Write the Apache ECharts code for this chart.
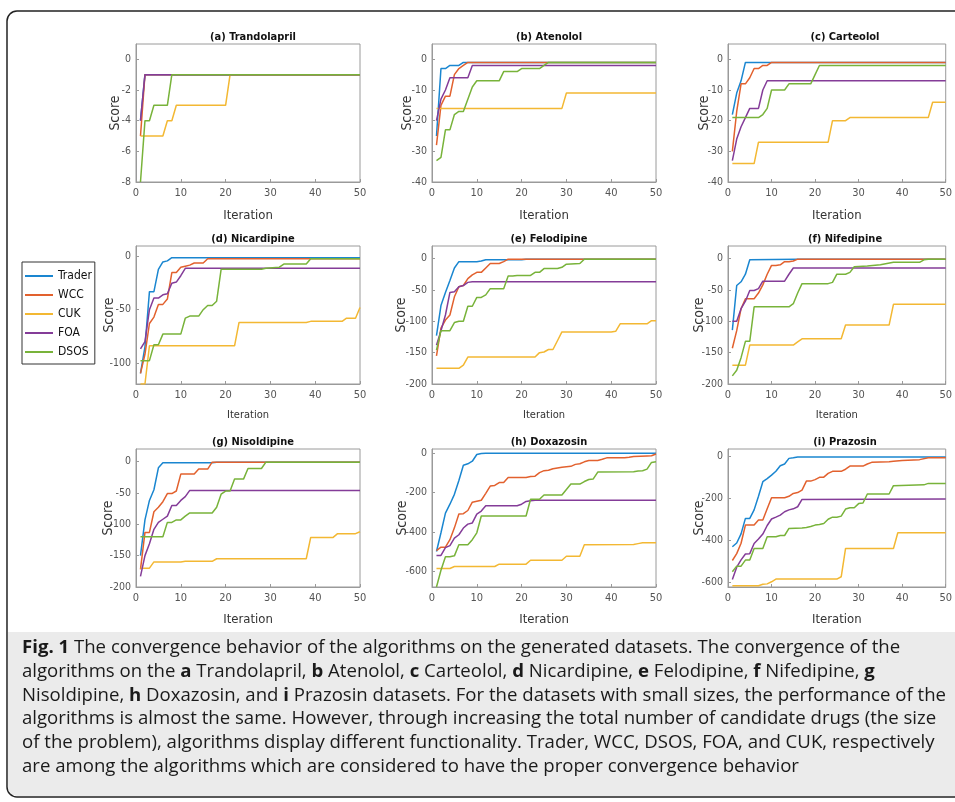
<!DOCTYPE html>
<html>
<head>
<meta charset="utf-8">
<script src="https://cdn.jsdelivr.net/npm/echarts@6/dist/echarts.min.js"></script>
<style>
html,body{margin:0;padding:0;background:#fff;}
#chart{width:955px;height:802px;}
</style>
</head>
<body>
<div id="chart"></div>
<script>
// ---------- DATA ----------
const algorithms = ['Trader', 'WCC', 'CUK', 'FOA', 'DSOS'];
const panelTitles = ['(a) Trandolapril', '(b) Atenolol', '(c) Carteolol', '(d) Nicardipine', '(e) Felodipine', '(f) Nifedipine', '(g) Nisoldipine', '(h) Doxazosin', '(i) Prazosin'];
const xTicks = [0, 10, 20, 30, 40, 50];

// (a) Trandolapril
const A_yTicks = [-8, -6, -4, -2, 0];
const A_Trader = [[1,-4],[2,-1],[50,-1]];
const A_WCC = [[1,-5],[2,-1],[50,-1]];
const A_CUK = [[1,-5],[6,-5],[7,-4],[8,-4],[9,-3],[20,-3],[21,-1],[50,-1]];
const A_FOA = [[1,-4],[2,-1],[50,-1]];
const A_DSOS = [[1,-8],[2,-4],[3,-4],[4,-3],[7,-3],[8,-1],[50,-1]];

// (b) Atenolol
const B_yTicks = [-40, -30, -20, -10, 0];
const B_Trader = [[1,-25],[2,-3],[3,-3],[4,-2],[6,-2],[7,-1],[50,-1]];
const B_WCC = [[1,-28],[2,-15],[3,-12],[4,-12],[5,-5],[6,-3],[7,-2],[8,-1],[50,-1]];
const B_CUK = [[1,-16],[29,-16],[30,-11],[50,-11]];
const B_FOA = [[1,-20],[2,-13],[3,-10],[4,-6],[8,-6],[9,-2],[50,-2]];
const B_DSOS = [[1,-33],[2,-32],[3,-23],[4,-23],[5,-18],[6,-17],[7,-17],[8,-13],[9,-9],[10,-7],[15,-7],[16,-4],[19,-4],[20,-3],[24,-3],[25,-2],[26,-1],[50,-1]];

// (c) Carteolol
const C_yTicks = [-40, -30, -20, -10, 0];
const C_Trader = [[1,-18],[2,-11],[3,-7],[4,-1],[50,-1]];
const C_WCC = [[1,-30],[2,-17],[3,-8],[4,-8],[5,-6],[6,-3],[7,-3],[8,-2],[9,-2],[10,-1],[50,-1]];
const C_CUK = [[1,-34],[6,-34],[7,-27],[23,-27],[24,-20],[27,-20],[28,-19],[46,-19],[47,-14],[50,-14]];
const C_FOA = [[1,-33],[2,-26],[3,-22],[4,-19],[5,-16],[7,-16],[8,-10],[9,-7],[50,-7]];
const C_DSOS = [[1,-19],[7,-19],[8,-18],[9,-16],[10,-10],[13,-10],[14,-8],[19,-8],[20,-5],[21,-2],[50,-2]];

// (d) Nicardipine
const D_yTicks = [-100, -50, 0];
const D_Trader = [[1,-110],[2,-85],[3,-33],[4,-33],[5,-12],[6,-5],[7,-4],[8,-1],[50,-1]];
const D_WCC = [[1,-110],[2,-92],[3,-63],[4,-57],[5,-45],[6,-45],[7,-40],[8,-15],[9,-15],[10,-10],[11,-9],[12,-8],[13,-6],[15,-6],[16,-2],[50,-2]];
const D_CUK = [[1,-120],[2,-120],[3,-84],[22,-84],[23,-62],[38,-62],[39,-61],[46,-61],[47,-58],[49,-58],[50,-48]];
const D_FOA = [[1,-87],[2,-80],[3,-50],[4,-39],[5,-39],[6,-36],[7,-35],[8,-25],[9,-24],[10,-18],[11,-11],[50,-11]];
const D_DSOS = [[1,-98],[3,-98],[4,-83],[5,-83],[6,-73],[10,-73],[11,-58],[12,-56],[14,-56],[15,-50],[16,-46],[17,-46],[18,-42],[19,-12],[28,-12],[29,-11],[32,-10],[33,-7],[38,-7],[39,-2],[50,-2]];

// (e) Felodipine
const E_yTicks = [-200, -150, -100, -50, 0];
const E_Trader = [[1,-123],[2,-75],[3,-54],[4,-35],[5,-15],[6,-5],[10,-5],[11,-4],[12,-2],[20,-2],[21,-1],[50,-1]];
const E_WCC = [[1,-155],[2,-111],[3,-98],[4,-90],[5,-61],[6,-45],[7,-43],[8,-32],[9,-26],[10,-22],[11,-22],[12,-15],[13,-8],[15,-8],[16,-5],[17,-1],[50,-1]];
const E_CUK = [[1,-175],[6,-175],[7,-170],[8,-157],[23,-157],[24,-150],[25,-149],[26,-145],[27,-145],[28,-131],[29,-117],[40,-117],[41,-116],[42,-104],[48,-104],[49,-99],[50,-99]];
const E_FOA = [[1,-138],[2,-115],[3,-90],[4,-54],[5,-53],[6,-45],[7,-43],[8,-38],[9,-37],[50,-37]];
const E_DSOS = [[1,-146],[2,-115],[4,-115],[5,-102],[6,-100],[7,-100],[8,-76],[9,-76],[10,-62],[11,-62],[12,-58],[13,-48],[16,-48],[17,-28],[18,-28],[19,-27],[22,-27],[23,-22],[24,-22],[25,-16],[28,-16],[29,-14],[30,-9],[33,-8],[34,-1],[50,-1]];

// (f) Nifedipine
const F_yTicks = [-200, -150, -100, -50, 0];
const F_Trader = [[1,-114],[2,-43],[3,-37],[4,-25],[5,-2],[16,-1],[50,-1]];
const F_WCC = [[1,-143],[2,-115],[3,-80],[4,-64],[6,-64],[7,-55],[8,-42],[9,-25],[10,-11],[11,-11],[12,-10],[13,-5],[14,-5],[15,-4],[16,-1],[50,-1]];
const F_CUK = [[1,-170],[4,-170],[5,-138],[15,-138],[16,-133],[17,-128],[26,-128],[27,-106],[37,-106],[38,-73],[50,-73]];
const F_FOA = [[1,-100],[2,-100],[3,-80],[4,-68],[5,-51],[6,-51],[7,-48],[8,-36],[13,-36],[14,-25],[15,-15],[50,-15]];
const F_DSOS = [[1,-187],[2,-178],[3,-158],[4,-132],[5,-132],[6,-77],[14,-77],[15,-72],[16,-55],[17,-40],[23,-40],[24,-38],[25,-25],[27,-25],[28,-22],[29,-13],[32,-12],[35,-10],[38,-6],[44,-6],[45,-2],[46,-1],[50,-1]];

// (g) Nisoldipine
const G_yTicks = [-200, -150, -100, -50, 0];
const G_Trader = [[1,-150],[2,-93],[3,-62],[4,-45],[5,-10],[6,-2],[17,-2],[18,-1],[50,-1]];
const G_WCC = [[1,-172],[2,-113],[3,-113],[4,-80],[5,-73],[6,-64],[7,-51],[8,-51],[9,-47],[10,-20],[13,-20],[14,-12],[16,-12],[17,-1],[50,-1]];
const G_CUK = [[1,-170],[3,-170],[4,-160],[10,-160],[11,-159],[17,-159],[18,-155],[38,-155],[39,-121],[44,-121],[45,-115],[49,-115],[50,-112]];
const G_FOA = [[1,-183],[2,-150],[3,-131],[4,-108],[5,-97],[6,-92],[7,-87],[8,-70],[9,-70],[10,-62],[11,-56],[12,-46],[50,-46]];
const G_DSOS = [[1,-120],[6,-120],[7,-97],[8,-97],[9,-93],[10,-93],[11,-87],[12,-82],[17,-82],[18,-73],[19,-52],[20,-47],[21,-47],[22,-28],[24,-28],[25,-11],[28,-11],[29,-1],[50,-1]];

// (h) Doxazosin
const H_yTicks = [-600, -400, -200, 0];
const H_Trader = [[1,-500],[2,-405],[3,-305],[4,-260],[5,-210],[6,-140],[7,-62],[8,-55],[9,-42],[10,-8],[11,-3],[12,-1],[50,-1]];
const H_WCC = [[1,-495],[2,-478],[3,-478],[4,-440],[5,-380],[6,-310],[7,-308],[8,-292],[9,-250],[10,-245],[11,-240],[12,-205],[13,-168],[14,-165],[15,-150],[16,-150],[17,-125],[21,-125],[22,-120],[23,-118],[24,-100],[25,-90],[26,-88],[27,-80],[28,-76],[29,-72],[30,-70],[31,-68],[32,-58],[33,-55],[34,-45],[35,-38],[37,-38],[38,-32],[39,-25],[43,-24],[44,-22],[45,-18],[48,-15],[49,-14],[50,-5]];
const H_CUK = [[1,-586],[4,-586],[5,-576],[14,-576],[15,-564],[21,-564],[22,-544],[29,-544],[30,-524],[33,-524],[34,-466],[45,-464],[46,-460],[47,-456],[50,-455]];
const H_FOA = [[1,-520],[2,-520],[3,-480],[4,-470],[5,-432],[6,-415],[7,-381],[8,-361],[9,-355],[10,-310],[11,-295],[12,-268],[19,-268],[20,-260],[21,-246],[22,-243],[23,-240],[50,-240]];
const H_DSOS = [[1,-680],[2,-595],[3,-527],[4,-527],[5,-522],[6,-466],[8,-466],[9,-440],[10,-405],[11,-320],[21,-320],[22,-235],[24,-235],[25,-213],[29,-213],[30,-185],[31,-158],[33,-158],[34,-145],[35,-135],[36,-132],[37,-97],[45,-95],[46,-92],[47,-90],[48,-82],[49,-48],[50,-45]];

// (i) Prazosin
const I_yTicks = [-600, -400, -200, 0];
const I_Trader = [[1,-432],[2,-414],[3,-370],[4,-296],[5,-296],[6,-255],[7,-190],[8,-120],[9,-105],[10,-88],[11,-70],[12,-43],[13,-35],[14,-8],[15,-5],[16,-1],[50,-1]];
const I_WCC = [[1,-498],[2,-465],[3,-415],[4,-328],[6,-328],[7,-304],[8,-304],[9,-250],[10,-197],[13,-197],[14,-190],[15,-176],[16,-172],[17,-160],[18,-117],[19,-117],[20,-110],[21,-99],[22,-98],[23,-80],[24,-70],[26,-70],[27,-60],[28,-45],[31,-45],[32,-35],[33,-27],[37,-24],[38,-22],[40,-18],[44,-14],[46,-5],[50,-5]];
const I_CUK = [[1,-619],[7,-619],[8,-612],[9,-610],[10,-600],[11,-587],[25,-587],[26,-576],[27,-440],[38,-440],[39,-365],[50,-365]];
const I_FOA = [[1,-589],[2,-530],[3,-495],[4,-467],[5,-465],[6,-416],[7,-395],[8,-371],[9,-330],[10,-299],[11,-290],[12,-280],[13,-264],[14,-255],[15,-250],[16,-240],[17,-205],[50,-203]];
const I_DSOS = [[1,-552],[2,-525],[3,-525],[4,-496],[5,-496],[6,-440],[8,-440],[9,-384],[11,-384],[12,-378],[13,-378],[14,-344],[17,-342],[18,-340],[19,-335],[20,-328],[21,-325],[22,-320],[23,-300],[24,-290],[25,-290],[26,-285],[27,-251],[28,-245],[29,-245],[30,-225],[31,-222],[32,-179],[37,-179],[38,-139],[45,-135],[46,-128],[50,-128]];

const captionLines = [
  '{b|Fig. 1} The convergence behavior of the algorithms on the generated datasets. The convergence of the',
  'algorithms on the {b|a} Trandolapril, {b|b} Atenolol, {b|c} Carteolol, {b|d} Nicardipine, {b|e} Felodipine, {b|f} Nifedipine, {b|g}',
  'Nisoldipine, {b|h} Doxazosin, and {b|i} Prazosin datasets. For the datasets with small sizes, the performance of the',
  'algorithms is almost the same. However, through increasing the total number of candidate drugs (the size',
  'of the problem), algorithms display different functionality. Trader, WCC, DSOS, FOA, and CUK, respectively',
  'are among the algorithms which are considered to have the proper convergence behavior'
];

// ---------- PANEL SETUP ----------
const panelSeries = [
  [A_Trader, A_WCC, A_CUK, A_FOA, A_DSOS],
  [B_Trader, B_WCC, B_CUK, B_FOA, B_DSOS],
  [C_Trader, C_WCC, C_CUK, C_FOA, C_DSOS],
  [D_Trader, D_WCC, D_CUK, D_FOA, D_DSOS],
  [E_Trader, E_WCC, E_CUK, E_FOA, E_DSOS],
  [F_Trader, F_WCC, F_CUK, F_FOA, F_DSOS],
  [G_Trader, G_WCC, G_CUK, G_FOA, G_DSOS],
  [H_Trader, H_WCC, H_CUK, H_FOA, H_DSOS],
  [I_Trader, I_WCC, I_CUK, I_FOA, I_DSOS]
];
const panelYTicks = [A_yTicks, B_yTicks, C_yTicks, D_yTicks, E_yTicks, F_yTicks, G_yTicks, H_yTicks, I_yTicks];
const panelYRange = [[-8,1],[-40,5],[-40,5],[-120,10],[-200,20],[-200,20],[-200,20],[-680,20],[-625,37]];

// layout (styling only)
const colLeft = [136, 432, 728];
const rowTop = [44, 246, 449];
const plotW = 224, plotH = 138;
const titleTop = [27, 229, 432];
const scoreGap = [14, 18, 17, 20, 24, 22, 21, 23, 22];
const iterFont = [13, 13, 13, 11, 11, 11, 13, 13, 13];
const iterGap = [27, 27, 27, 26, 26, 26, 26, 26, 26];
const colors = ['#1A86D0', '#E2612E', '#F3B833', '#843C98', '#78B33A'];
const FONT = "'Liberation Sans Narrow','DejaVu Sans Condensed','Arial Narrow',sans-serif";
const CAPFONT = "'Open Sans','Liberation Sans',Arial,sans-serif";
const axisGray = '#9a9a9a';

const grid = [], xAxis = [], yAxis = [], series = [], title = [];
for (let p = 0; p < 9; p++) {
  const r = Math.floor(p / 3), c = p % 3;
  grid.push({left: colLeft[c], top: rowTop[r], width: plotW, height: plotH,
    show: true, borderColor: axisGray, borderWidth: 1, backgroundColor: 'transparent'});
  title.push({text: panelTitles[p], left: colLeft[c] + plotW / 2, top: titleTop[r], textAlign: 'center',
    textStyle: {fontFamily: FONT, fontSize: 11, fontWeight: 'bold', color: '#111'}});
  xAxis.push({gridIndex: p, type: 'value', min: 0, max: 50, interval: 10,
    name: 'Iteration', nameLocation: 'middle', nameGap: iterGap[p], nameMoveOverlap: false,
    nameTextStyle: {fontFamily: FONT, fontSize: iterFont[p], color: '#333'},
    axisLine: {onZero: false, lineStyle: {color: axisGray}},
    axisTick: {inside: true, length: 3, lineStyle: {color: axisGray}, customValues: xTicks},
    axisLabel: {fontFamily: FONT, fontSize: 11, color: '#555', margin: 6, customValues: xTicks},
    splitLine: {show: false}});
  yAxis.push({gridIndex: p, type: 'value', min: panelYRange[p][0], max: panelYRange[p][1],
    name: 'Score', nameLocation: 'middle', nameGap: scoreGap[p], nameMoveOverlap: false,
    nameTextStyle: {fontFamily: FONT, fontSize: 14, color: '#333'},
    axisLine: {show: true, onZero: false, lineStyle: {color: axisGray}},
    axisTick: {show: true, inside: true, length: 3, lineStyle: {color: axisGray}, customValues: panelYTicks[p]},
    axisLabel: {fontFamily: FONT, fontSize: 10.5, color: '#555', margin: 5, customValues: panelYTicks[p]},
    splitLine: {show: false}});
  panelSeries[p].forEach((d, k) => {
    series.push({name: algorithms[k], type: 'line', xAxisIndex: p, yAxisIndex: p, data: d,
      symbol: 'none', showSymbol: false, animation: false,
      lineStyle: {width: 1.5, color: colors[k]}, itemStyle: {color: colors[k]}, z: 2 + k});
  });
}

const graphic = [
  {type: 'rect', z: 0, shape: {x: 8, y: 632, width: 955, height: 164, r: [0, 0, 0, 9]}, style: {fill: '#ebebeb'}},
  {type: 'rect', z: 5, shape: {x: 7, y: 11, width: 965, height: 786, r: 10}, style: {fill: 'none', stroke: '#222', lineWidth: 1.5}}
];
const capY = [648, 672, 696, 719, 743, 767];
captionLines.forEach((t, i) => {
  graphic.push({type: 'text', z: 3, style: {x: 22, y: capY[i], text: t, verticalAlign: 'middle', align: 'left',
    fontFamily: CAPFONT, fontSize: 18.6, fill: '#1a1a1a',
    rich: {b: {fontWeight: 'bold', fontFamily: CAPFONT, fontSize: 18.6, fill: '#1a1a1a'}}}});
});

const option = {
  backgroundColor: '#fff',
  animation: false,
  title: title,
  legend: {data: algorithms, orient: 'vertical', left: 22, top: 262, icon: 'rect', itemWidth: 28, itemHeight: 2, itemGap: 7,
    padding: [8, 3, 6, 3], borderColor: '#333', borderWidth: 1, backgroundColor: '#fff',
    textStyle: {fontFamily: FONT, fontSize: 12, color: '#111'}},
  grid: grid, xAxis: xAxis, yAxis: yAxis, series: series, graphic: graphic
};
const chart = echarts.init(document.getElementById('chart'), null, {renderer: 'canvas'});
chart.setOption(option);
</script>
</body>
</html>
